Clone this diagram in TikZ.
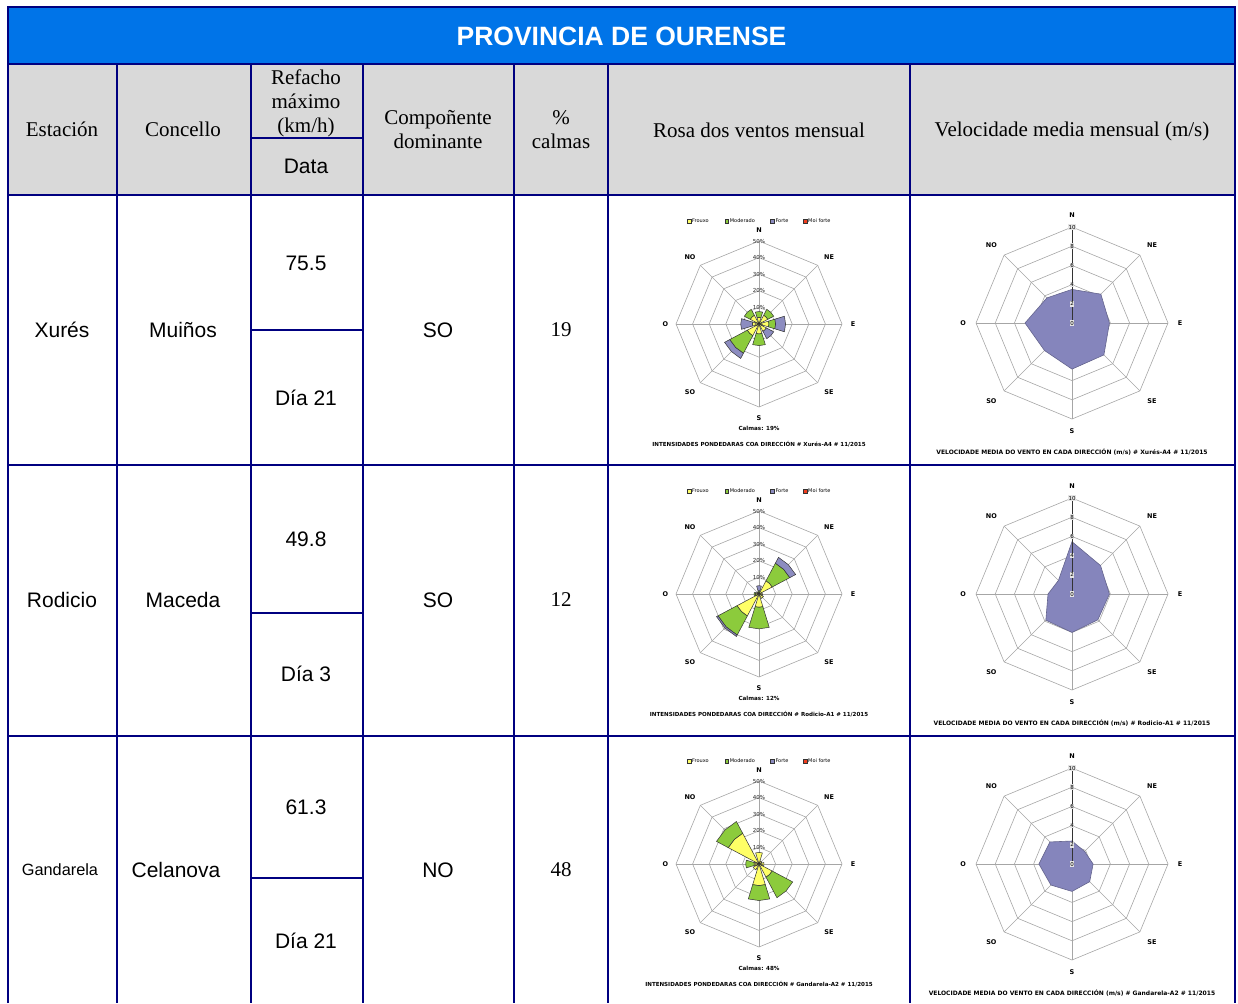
\documentclass[tikz,border=0pt]{standalone}
\usepackage{fontspec}
\setmainfont{Liberation Serif}
\newfontfamily\arial{Liberation Sans}
\newfontfamily\chartfont{DejaVu Sans}
\usepackage{tikz}

\definecolor{titleblue}{HTML}{0074E8}
\definecolor{headgray}{HTML}{D9D9D9}
\definecolor{navy}{HTML}{000080}
\definecolor{frouxo}{HTML}{FFFF66}
\definecolor{moderado}{HTML}{8CCB3C}
\definecolor{forte}{HTML}{8C8CC0}
\definecolor{moiforte}{HTML}{F03C1E}
\definecolor{velfill}{HTML}{8585BC}

% one band of a petal: angle, inner %, outer %, colour
\newcommand\petal[4]{%
  \filldraw[petal, fill=#4] ({#1-17}:{#2*1.66}) -- ({#1}:{#2*1.66}) -- ({#1+17}:{#2*1.66})
    -- ({#1+17}:{#3*1.66}) -- ({#1}:{#3*1.66}) -- ({#1-17}:{#3*1.66}) -- cycle;}

% rose: centre y, calmas, station, prefix, petals
\newcommand\rosa[5]{%
  \begin{scope}[shift={(759,#1)}, yscale=-1]
    \foreach \k in {1,...,5}
      \draw[grid] (0:{\k*16.6}) -- (45:{\k*16.6}) -- (90:{\k*16.6}) -- (135:{\k*16.6})
        -- (180:{\k*16.6}) -- (225:{\k*16.6}) -- (270:{\k*16.6}) -- (315:{\k*16.6}) -- cycle;
    \foreach \a in {0,45,...,315} \draw[grid] (0,0) -- (\a:83);
    #5
    \foreach \k in {1,...,5} \node[ring] (#4-r\k) at (90:{\k*16.6}) {\k0\%};
    \node[ring] (#4-r0) at (0,0) {0\%};
    \node[dir] (#4-N) at (0,93.6) {N};
    \node[dir] (#4-NO) at (-69,66.6) {NO};
    \node[dir] (#4-NE) at (70,66.6) {NE};
    \node[dir] (#4-O) at (-93.5,0) {O};
    \node[dir] (#4-E) at (94,0) {E};
    \node[dir] (#4-SO) at (-69,-68) {SO};
    \node[dir] (#4-SE) at (70,-68) {SE};
    \node[dir] (#4-S) at (0,-94.5) {S};
    \node[swatch, fill=frouxo] (#4-q1) at (-70,103) {};
    \node[legend] (#4-l1) at (-67,103) {Frouxo};
    \node[swatch, fill=moderado] (#4-q2) at (-32.3,103) {};
    \node[legend] (#4-l2) at (-29.3,103) {Moderado};
    \node[swatch, fill=forte] (#4-q3) at (13.3,103) {};
    \node[legend] (#4-l3) at (16.3,103) {Forte};
    \node[swatch, fill=moiforte] (#4-q4) at (46,103) {};
    \node[legend] (#4-l4) at (49,103) {Moi forte};
    \node[dir, font=\chartfont\bfseries\fontsize{5.6}{6}\selectfont] (#4-calm) at (0,-104) {Calmas: #2\%};
    \node[ctitle] (#4-tit) at (0,-120) {INTENSIDADES PONDEDARAS COA DIRECCIÓN \# #3 \# 11/2015};
  \end{scope}}

% velocity: centre y, station, prefix, polygon
\newcommand\velo[4]{%
  \begin{scope}[shift={(1072,#1)}, yscale=-1]
    \foreach \k in {1,...,5}
      \draw[grid] (0:{\k*19.2}) -- (45:{\k*19.2}) -- (90:{\k*19.2}) -- (135:{\k*19.2})
        -- (180:{\k*19.2}) -- (225:{\k*19.2}) -- (270:{\k*19.2}) -- (315:{\k*19.2}) -- cycle;
    \foreach \a in {0,45,...,315} \draw[grid] (0,0) -- (\a:96);
    \filldraw[vel] #4 -- cycle;
    \draw[black!80, line width=0.7pt] (0,0) -- (0,96);
    \foreach \k in {0,...,5} \draw[black!80, line width=0.5pt] (-2,{\k*19.2}) -- (2,{\k*19.2});
    \foreach \k [evaluate=\k as \v using int(2*\k)] in {0,...,5}
      \node[tick] (#3-t\k) at (0,{\k*19.2}) {\v};
    \node[dir] (#3-N) at (0,107.6) {N};
    \node[dir] (#3-NO) at (-80.6,77.6) {NO};
    \node[dir] (#3-NE) at (80,77.6) {NE};
    \node[dir] (#3-O) at (-109,0) {O};
    \node[dir] (#3-E) at (108,0) {E};
    \node[dir] (#3-SO) at (-80.6,-78.4) {SO};
    \node[dir] (#3-SE) at (80,-78.4) {SE};
    \node[dir] (#3-S) at (0,-108.4) {S};
    \node[ctitle, font=\chartfont\bfseries\fontsize{6}{7}\selectfont] (#3-tit) at (0,-129.4) {VELOCIDADE MEDIA DO VENTO EN CADA DIRECCIÓN (m/s) \# #2 \# 11/2015};
  \end{scope}}

\begin{document}
\begin{tikzpicture}[x=1pt, y=-1pt,
    frame/.style={draw=navy, line width=2pt},
    rm/.style={font=\fontsize{21}{24}\selectfont, align=center},
    sf/.style={font=\arial\fontsize{21}{24}\selectfont},
    grid/.style={draw=gray!70, line width=0.6pt},
    petal/.style={draw=black!80, line width=0.5pt},
    dir/.style={font=\chartfont\bfseries\fontsize{6.5}{7}\selectfont, inner sep=0pt},
    ring/.style={font=\chartfont\fontsize{5.5}{6}\selectfont, text=black!85, inner sep=0.5pt},
    legend/.style={font=\chartfont\fontsize{5}{6}\selectfont, inner sep=0pt, anchor=west},
    swatch/.style={draw=black!80, line width=0.4pt, minimum size=3.5pt, inner sep=0pt},
    ctitle/.style={font=\chartfont\bfseries\fontsize{5.55}{6}\selectfont, inner sep=0pt},
    vel/.style={fill=velfill, draw=velfill!75!black, line width=0.6pt},
    tick/.style={font=\chartfont\fontsize{5.5}{6}\selectfont, fill=gray!20, inner sep=0.7pt}]
  \useasboundingbox (0,0) rectangle (1238,1003);

  % title and header band
  \fill[titleblue] (8,7) rectangle (1235,64);
  \fill[headgray] (8,64) rectangle (1235,195);
  \node[font=\arial\bfseries\fontsize{26.5}{30}\selectfont, text=white] (title) at (621.5,36) {PROVINCIA DE OURENSE};

  \node[rm] (h-est) at (62,129) {Estación};
  \node[rm] (h-conc) at (183,129) {Concello};
  \node[rm] (h-ref) at (306,103) {Refacho\\máximo\\(km/h)};
  \node[sf] (h-data) at (306,166) {Data};
  \node[rm] (h-comp) at (438,130) {Compoñente\\dominante};
  \node[rm] (h-calm) at (561,130) {\%\\calmas};
  \node[rm] (h-rosa) at (759,130) {Rosa dos ventos mensual};
  \node[rm] (h-vel) at (1072,131) {Velocidade media mensual (m/s)};

  % rows
  \node[sf] (est1) at (62,330) {Xurés};
  \node[sf] (conc1) at (183,330) {Muiños};
  \node[sf] (ref1) at (306,263) {75.5};
  \node[sf] (dia1) at (306,398) {Día 21};
  \node[sf] (comp1) at (438,330) {SO};
  \node[rm] (calm1) at (561,330) {19};

  \node[sf] (est2) at (62,600) {Rodicio};
  \node[sf] (conc2) at (183,600) {Maceda};
  \node[sf] (ref2) at (306,539) {49.8};
  \node[sf] (dia2) at (306,674) {Día 3};
  \node[sf] (comp2) at (438,600) {SO};
  \node[rm] (calm2) at (561,600) {12};

  \node[sf, font=\arial\fontsize{16.3}{18}\selectfont] (est3) at (60,870) {Gandarela};
  \node[sf] (conc3) at (176,870) {Celanova};
  \node[sf] (ref3) at (306,807) {61.3};
  \node[sf] (dia3) at (306,941) {Día 21};
  \node[sf] (comp3) at (438,870) {NO};
  \node[rm] (calm3) at (561,870) {48};

  % wind roses
  \rosa{324}{19}{Xurés-A4}{xu}{%
    \foreach \a/\ri/\ro/\col in {90/0/4/frouxo, 90/4/7.5/moderado, 45/0/6/frouxo, 45/6/10/moderado,
      0/0/6/frouxo, 0/6/10/moderado, 0/10/16/forte, 315/0/5/frouxo, 315/5/10/forte,
      270/0/6/frouxo, 270/6/13/moderado, 225/0/8/frouxo, 225/8/20/moderado, 225/20/23.5/forte,
      180/0/4/frouxo, 180/4/11/forte, 135/0/6/frouxo, 135/6/10/moderado}
      \petal{\a}{\ri}{\ro}{\col};}
  \rosa{594}{12}{Rodicio-A1}{ro}{%
    \foreach \a/\ri/\ro/\col in {90/0/1/frouxo, 90/1/2/moderado, 90/2/5/forte,
      45/0/9/frouxo, 45/9/21/moderado, 45/21/25/forte, 0/0/2/frouxo, 315/0/3/frouxo,
      270/0/8/frouxo, 270/8/21/moderado, 225/0/15/frouxo, 225/15/28/moderado, 225/28/29/forte,
      180/0/2/frouxo, 180/2/3/moderado, 135/0/1.5/frouxo}
      \petal{\a}{\ri}{\ro}{\col};}
  \rosa{864}{48}{Gandarela-A2}{ga}{%
    \foreach \a/\ri/\ro/\col in {90/0/7/frouxo, 45/0/2/frouxo, 0/0/3/frouxo,
      315/0/9/frouxo, 315/9/23/moderado, 270/0/13/frouxo, 270/13/22/moderado,
      225/0/4/frouxo, 180/0/3/frouxo, 180/3/8/moderado, 135/0/21/frouxo, 135/21/29/moderado}
      \petal{\a}{\ri}{\ro}{\col};}

  % mean speed
  \velo{323}{Xurés-A4}{vx}{(90:33.6) -- (45:40.8) -- (0:37.4) -- (-45:45.1) -- (-90:46.1) -- (-135:38.9) -- (180:47.0) -- (135:35.5)}
  \velo{594}{Rodicio-A1}{vr}{(90:52.3) -- (45:40.3) -- (0:37.4) -- (-45:36.5) -- (-90:38.4) -- (-135:37.0) -- (180:24.0) -- (135:19.2)}
  \velo{864}{Gandarela-A2}{vg}{(90:23.0) -- (45:17.8) -- (0:21.1) -- (-45:25.0) -- (-90:27.4) -- (-135:29.8) -- (180:33.1) -- (135:31.2)}

  % table lines
  \draw[frame] (8,1003) -- (8,7) -- (1235,7) -- (1235,1003);
  \foreach \y in {64,195,465,736} \draw[frame] (8,\y) -- (1235,\y);
  \foreach \x in {117,251,363,514,608,910} \draw[frame] (\x,64) -- (\x,1003);
  \foreach \y in {138,330,613,878} \draw[frame] (251,\y) -- (363,\y);
\end{tikzpicture}
\end{document}
